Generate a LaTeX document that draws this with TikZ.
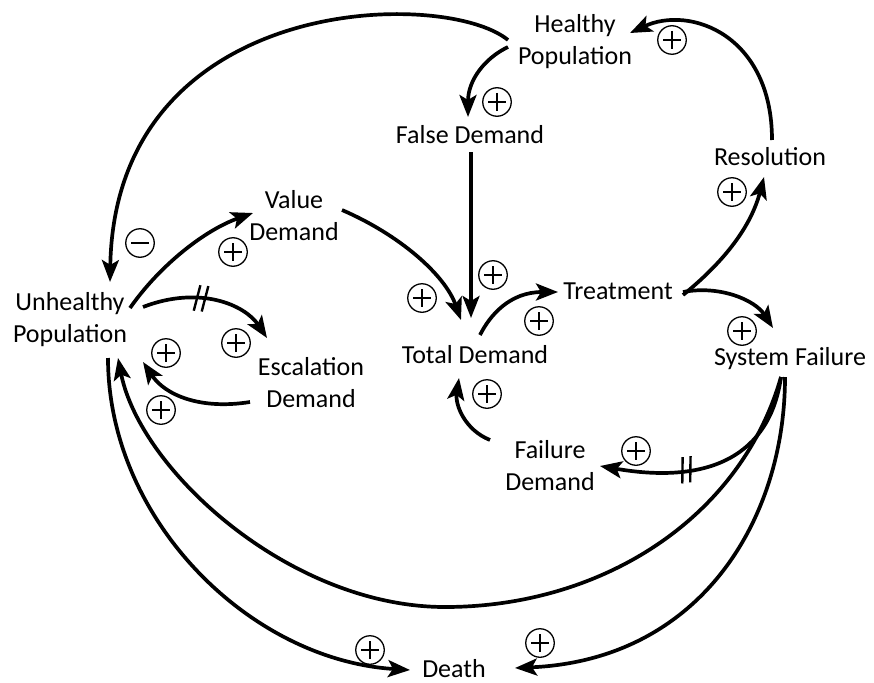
\documentclass[tikz,border=0pt]{standalone}
\usepackage{fontspec}
\setmainfont{Carlito}
\usetikzlibrary{arrows.meta,calc,decorations.markings}

\tikzset{
  lbl/.style={anchor=base, inner sep=0pt, align=center, font=\fontsize{26}{32}\selectfont},
  link/.style={line width=3.7pt, -{Stealth[length=22pt,width=17pt,inset=5pt]}},
  polbase/.style={circle, draw, line width=1.3pt, minimum size=28.5pt, inner sep=0pt},
  pos sign/.style={polbase, path picture={
      \draw[line width=1.3pt] ($(path picture bounding box.center)+(-9,0)$) -- ++(18,0)
                               ($(path picture bounding box.center)+(0,-9)$) -- ++(0,18);}},
  neg sign/.style={polbase, path picture={
      \draw[line width=1.3pt] ($(path picture bounding box.center)+(-9,0)$) -- ++(18,0);}},
  delay at/.style={postaction={decorate, decoration={markings,
      mark=at position #1 with {
        \draw[line width=2.4pt, -] (-5pt,-13pt) -- (-1pt,13pt) (3pt,-13pt) -- (7pt,13pt);}}}}
}

\begin{document}
\begin{tikzpicture}[x=1pt,y=-1pt]
  \fill[white] (0,0) rectangle (874,682);
  \useasboundingbox (0,0) rectangle (874,682);

  % variables (base anchor sits on the last line)
  \node[lbl] (hp)    at (575,65)  {Healthy\\Population};
  \node[lbl] (fd)    at (470,143) {False Demand};
  \node[lbl] (res)   at (770,165) {Resolution};
  \node[lbl] (vd)    at (294,240) {Value\\Demand};
  \node[lbl] (up)    at (70,342)  {Unhealthy\\Population};
  \node[lbl] (ed)    at (311,407) {Escalation\\Demand};
  \node[lbl] (td)    at (475,363) {Total Demand};
  \node[lbl] (tr)    at (618,299) {Treatment};
  \node[lbl] (sf)    at (790,365) {System Failure};
  \node[lbl] (fdm)   at (550,490) {Failure\\Demand};
  \node[lbl] (death) at (454,677) {Death};

  % causal links
  \draw[link] ($(hp.base)+(-67,-25)$) .. controls (445,-12) and (115,-8) .. ($(up.base)+(40,-60)$);
  \draw[link] ($(hp.base)+(-67,-18)$) .. controls (485,58) and (468,80) .. ($(fd.base)+(-2,-26)$);
  \draw[link] ($(fd.base)+(1,9)$) -- ($(td.base)+(-4,-45)$);
  \draw[link] ($(vd.base)+(48,-30)$) .. controls (400,235) and (445,275) .. ($(td.base)+(-14,-43)$);
  \draw[link] ($(up.base)+(60,-34)$) .. controls (160,265) and (205,230) .. ($(vd.base)+(-41,-27)$);
  \draw[link, delay at=0.42] ($(up.base)+(73,-35)$) .. controls (200,285) and (245,305) .. ($(ed.base)+(-44,-69)$);
  \draw[link] ($(ed.base)+(-61,-5)$) .. controls (200,410) and (165,395) .. ($(up.base)+(73,20)$);
  \draw[link] ($(td.base)+(5,-28)$) .. controls (490,315) and (510,292) .. ($(tr.base)+(-60,-7)$);
  \draw[link] ($(tr.base)+(65,-4)$) .. controls (720,265) and (750,230) .. ($(res.base)+(-6,12)$);
  \draw[link] ($(res.base)+(2,-25)$) .. controls (772,35) and (690,5) .. ($(hp.base)+(55,-32)$);
  \draw[link] ($(tr.base)+(65,-7)$) .. controls (720,285) and (755,300) .. ($(sf.base)+(-17,-37)$);
  \draw[link, delay at=0.62] ($(sf.base)+(-9,12)$) .. controls (770,455) and (710,485) .. ($(fdm.base)+(50,-24)$);
  \draw[link] ($(fdm.base)+(-60,-50)$) .. controls (465,430) and (455,405) .. ($(td.base)+(-16,15)$);
  \draw[link] ($(sf.base)+(-9,12)$) .. controls (740,520) and (600,607) .. (445,607)
                                    .. controls (290,607) and (140,470) .. ($(up.base)+(48,16)$);
  \draw[link] ($(up.base)+(38,16)$) .. controls (108,520) and (250,660) .. ($(death.base)+(-44,-7)$);
  \draw[link] ($(sf.base)+(-5,12)$) .. controls (785,520) and (700,660) .. ($(death.base)+(61,-9)$);

  % link polarities
  \node[neg sign] (s1)  at (140,243) {};
  \node[pos sign] (s2)  at (497,102) {};
  \node[pos sign] (s3)  at (672,40)  {};
  \node[pos sign] (s4)  at (732,192) {};
  \node[pos sign] (s5)  at (493,275) {};
  \node[pos sign] (s6)  at (422,298) {};
  \node[pos sign] (s7)  at (539,321) {};
  \node[pos sign] (s8)  at (742,331) {};
  \node[pos sign] (s9)  at (487,394) {};
  \node[pos sign] (s10) at (636,451) {};
  \node[pos sign] (s11) at (233,252) {};
  \node[pos sign] (s12) at (236,343) {};
  \node[pos sign] (s13) at (166,353) {};
  \node[pos sign] (s14) at (161,410) {};
  \node[pos sign] (s15) at (370,650) {};
  \node[pos sign] (s16) at (540,643) {};
\end{tikzpicture}
\end{document}
